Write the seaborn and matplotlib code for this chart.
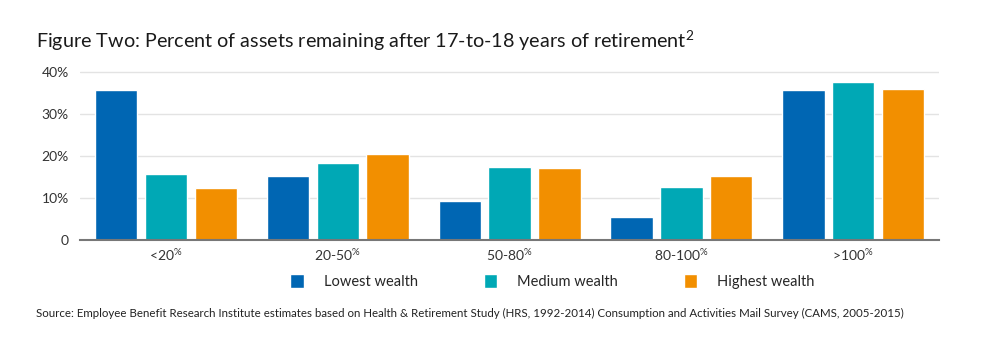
import matplotlib
matplotlib.use('Agg')
import matplotlib.pyplot as plt
import seaborn as sns
import pandas as pd

# data
buckets = ['<20', '20-50', '50-80', '80-100', '>100']
groups = ['Lowest wealth', 'Medium wealth', 'Highest wealth']
lowest = [35.6, 15.3, 9.3, 5.4, 35.6]
medium = [15.8, 18.2, 17.4, 12.5, 37.5]
highest = [12.3, 20.4, 17.2, 15.1, 36.0]
yticks = [0, 10, 20, 30, 40]
ytick_labels = ['0', '10%', '20%', '30%', '40%']

df = pd.DataFrame({
    'bucket': buckets * 3,
    'group': [g for g in groups for _ in buckets],
    'value': lowest + medium + highest,
})

palette = {'Lowest wealth': '#0066B3', 'Medium wealth': '#00A8B5', 'Highest wealth': '#F28F00'}

sns.set_style('white')
plt.rcParams['font.family'] = ['Lato', 'DejaVu Sans']
plt.rcParams['mathtext.fontset'] = 'custom'
plt.rcParams['mathtext.rm'] = 'Lato'
plt.rcParams['mathtext.it'] = 'Lato'

fig = plt.figure(figsize=(9.83, 3.55), dpi=100)
ax = fig.add_axes([0.0814, 0.324, 0.874, 0.48])

sns.barplot(data=df, x='bucket', y='value', hue='group', order=buckets,
            hue_order=groups, palette=palette, width=0.87, gap=0.15,
            saturation=1, ax=ax, legend=True)

ax.set_xlim(-0.5, 4.5)
ax.set_ylim(0, 40.5)
ax.set_yticks(yticks)
ax.set_yticklabels(ytick_labels, fontsize=10, color='#333333')
ax.set_xticks(range(len(buckets)))
ax.set_xticklabels([b + r'$^{\mathrm{\%}}$' for b in buckets], fontsize=10, color='#333333')
ax.tick_params(axis='x', length=0, pad=5)
ax.tick_params(axis='y', length=0, pad=8)
ax.set_xlabel('')
ax.set_ylabel('')
ax.grid(axis='y', color='#E3E3E3', linewidth=1)
ax.set_axisbelow(True)
for side in ['top', 'right', 'left']:
    ax.spines[side].set_visible(False)
ax.spines['bottom'].set_color('#777777')
ax.spines['bottom'].set_linewidth(1.5)

handles, labels = ax.get_legend_handles_labels()
ax.get_legend().remove()
fig.legend(handles, labels, loc='center', bbox_to_anchor=(0.562, 0.207), ncol=3,
           frameon=False, fontsize=10.5, handlelength=0.9, handleheight=1.1,
           handletextpad=1.4, columnspacing=4.5)

fig.text(0.037, 0.885, r'Figure Two: Percent of assets remaining after 17-to-18 years of retirement$^{\mathrm{2}}$',
         fontsize=14.2, color='#1a1a1a', ha='left', va='center')
fig.text(0.037, 0.118,
         'Source: Employee Benefit Research Institute estimates based on Health & Retirement Study (HRS, 1992-2014) '
         'Consumption and Activities Mail Survey (CAMS, 2005-2015)',
         fontsize=8.3, color='#222222', ha='left', va='center')

fig.savefig('out.png', dpi=100, facecolor='white')
